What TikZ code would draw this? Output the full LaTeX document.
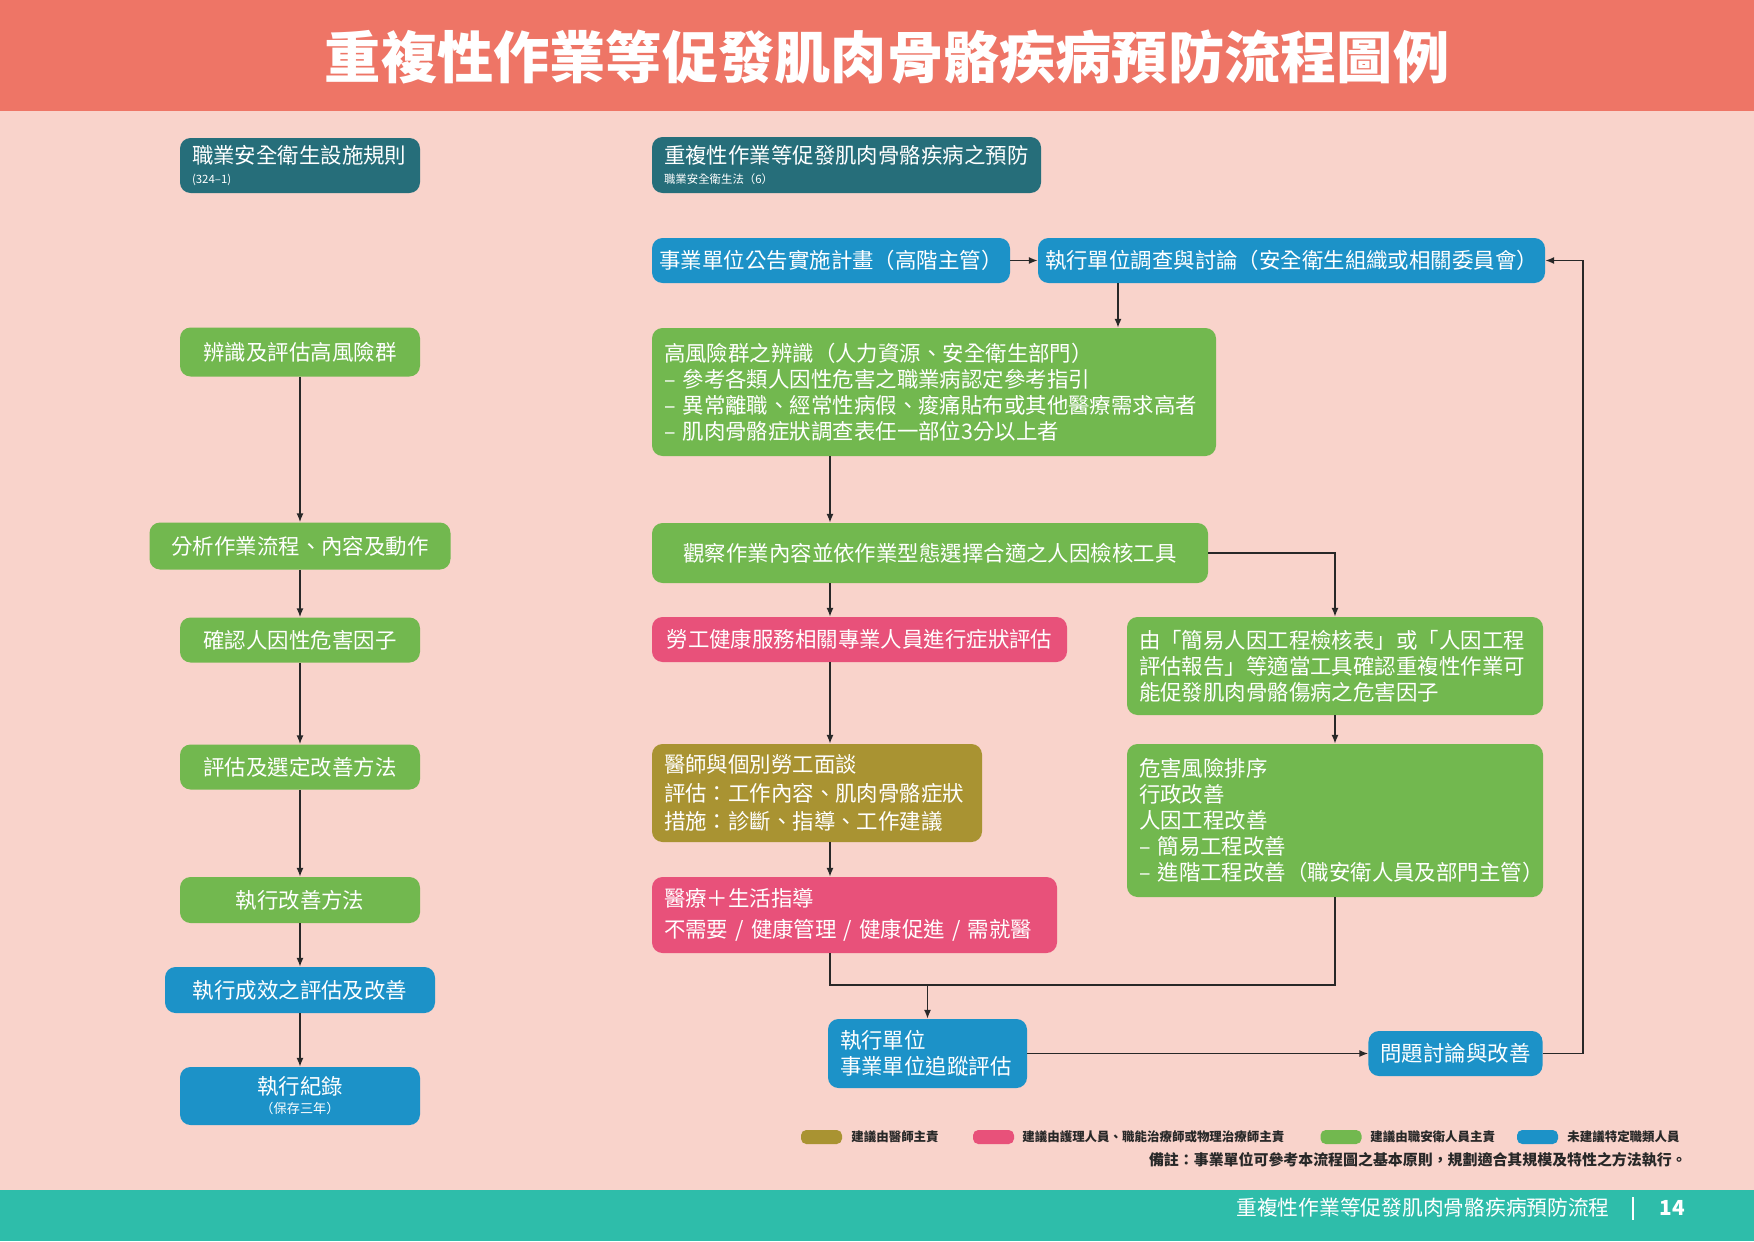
\documentclass[tikz,border=0pt]{standalone}
\usepackage{fontspec}
\setmainfont{Noto Sans CJK TC}
\usepackage{xcolor}
\usepackage{tikz}
\usetikzlibrary{arrows.meta}
\definecolor{bgpink}{RGB}{249,211,203}
\definecolor{titlered}{RGB}{238,117,102}
\definecolor{footteal}{RGB}{46,189,170}
\definecolor{darkteal}{RGB}{38,110,122}
\definecolor{boxblue}{RGB}{28,146,200}
\definecolor{boxgreen}{RGB}{114,184,79}
\definecolor{boxolive}{RGB}{169,147,50}
\definecolor{boxpink}{RGB}{232,81,122}
\definecolor{linegray}{RGB}{40,40,40}
\tikzset{
  box/.style={rounded corners=6pt, inner ysep=0pt, inner xsep=0.24cm, text=white, font=\fontsize{12.2}{14.8}\selectfont},
  sz/.style 2 args={minimum width=#1*0.02cm, minimum height=#2*0.02cm},
  flow/.style={draw=linegray, line width=0.8pt, -{Latex[length=5pt,width=4pt]}},
  joint/.style={draw=linegray, line width=0.8pt},
  swatch/.style={rounded corners=3pt, minimum width=0.82cm, minimum height=0.28cm, inner sep=0pt},
  legend/.style={anchor=west, text=linegray, inner sep=0pt, font=\fontsize{7.1}{9}\selectfont\bfseries}
}
\newcommand{\tinyline}[1]{{\fontsize{6.5}{9}\selectfont #1}}

\begin{document}
\begin{tikzpicture}[x=0.02cm, y=-0.02cm]
\fill[bgpink] (0,0) rectangle (1754,1241);
\fill[titlered] (0,0) rectangle (1754,111);
\fill[footteal] (0,1190) rectangle (1754,1241);
\node[text=white, font=\fontsize{32}{36}\selectfont\bfseries] (title) at (887,57) {重複性作業等促發肌肉骨骼疾病預防流程圖例};

\begin{scope}[every node/.style={box, fill=boxgreen}]
  \node[fill=darkteal, sz={240}{55}, align=left, text width=4.32cm] (a) at (300,165.5) {職業安全衛生設施規則\\[-3pt]\tinyline{(324–1)}};
  \node[sz={240}{49}] (b) at (300,352) {辨識及評估高風險群};
  \node[sz={301}{47}] (c) at (300,546) {分析作業流程、內容及動作};
  \node[sz={240}{45}] (d) at (300,640) {確認人因性危害因子};
  \node[sz={240}{45}] (e) at (300,767) {評估及選定改善方法};
  \node[sz={240}{46}] (f) at (300,900) {執行改善方法};
  \node[fill=boxblue, sz={270}{46}] (g) at (300,990) {執行成效之評估及改善};
  \node[fill=boxblue, sz={240}{58}, align=center] (h) at (300,1096) {執行紀錄\\[-4pt]{\fontsize{7.5}{9}\selectfont（保存三年）}};
  \draw[flow] (b) -- (c);
  \draw[flow] (c) -- (d);
  \draw[flow] (d) -- (e);
  \draw[flow] (e) -- (f);
  \draw[flow] (f) -- (g);
  \draw[flow] (g) -- (h);
\end{scope}

\begin{scope}[every node/.style={box, fill=boxgreen}]
  \coordinate (x1) at (1118,0);
  \coordinate (x2) at (830,0);
  \coordinate (x3) at (1583,0);
  \coordinate (y1) at (0,985);
  \node[fill=darkteal, sz={389}{56}, align=left, text width=7.3cm] (a) at (846.5,165) {重複性作業等促發肌肉骨骼疾病之預防\\[-3pt]\tinyline{職業安全衛生法（6）}};
  \node[fill=boxblue, sz={358}{45}, inner xsep=0.05cm] (b) at (831,260.5) {事業單位公告實施計畫（高階主管）};
  \node[fill=boxblue, sz={507}{45}, inner xsep=0.05cm] (c) at (1291.5,260.5) {執行單位調查與討論（安全衛生組織或相關委員會）};
  \node[sz={564}{128}, align=left, text width=10.8cm] (d) at (934,392) {高風險群之辨識（人力資源、安全衛生部門）\\\mbox{–~參考各類人因性危害之職業病認定參考指引}\\\mbox{–~異常離職、經常性病假、痠痛貼布或其他醫療需求高者}\\\mbox{–~肌肉骨骼症狀調查表任一部位3分以上者}};
  \node[sz={556}{60}] (e) at (930,553) {觀察作業內容並依作業型態選擇合適之人因檢核工具};
  \node[fill=boxpink, sz={415}{45}] (f) at (859.5,639.5) {勞工健康服務相關專業人員進行症狀評估};
  \node[sz={416}{98}, align=left, text width=7.84cm] (g) at (1335,666) {\mbox{由「簡易人因工程檢核表」或「人因工程}\\\mbox{評估報告」等適當工具確認重複性作業可}\\能促發肌肉骨骼傷病之危害因子};
  \node[fill=boxolive, sz={330}{98}, align=left, text width=6.12cm] (h) at (817,793) {醫師與個別勞工面談\\[1.5pt]評估：工作內容、肌肉骨骼症狀\\[1.5pt]措施：診斷、指導、工作建議};
  \node[sz={416}{153}, align=left, text width=7.84cm] (i) at (1335,820.5) {危害風險排序\\行政改善\\人因工程改善\\\mbox{–~簡易工程改善}\\\mbox{–~進階工程改善（職安衛人員及部門主管）}};
  \node[fill=boxpink, sz={405}{76}, align=left, text width=7.62cm] (j) at (854.5,915) {醫療＋生活指導\\[3pt]\mbox{不需要~/~健康管理~/~健康促進~/~需就醫}};
  \node[fill=boxblue, sz={199}{69}, align=left, text width=3.5cm] (k) at (927.5,1053.5) {執行單位\\事業單位追蹤評估};
  \node[fill=boxblue, sz={171}{45}] (l) at (1455.5,1053.5) {問題討論與改善};
  \draw[flow] (b) -- (c);
  \draw[flow] (c.south -| x1) -- (d.north -| x1);
  \draw[flow] (d.south -| x2) -- (e.north -| x2);
  \draw[flow] (e.south -| x2) -- (f.north -| x2);
  \draw[flow] (f.south -| x2) -- (h.north -| x2);
  \draw[flow] (h.south -| x2) -- (j.north -| x2);
  \draw[flow] (e.east) -| (g.north);
  \draw[flow] (g) -- (i);
  \draw[joint] (j.south -| x2) -- (x2 |- y1) -- (i.south |- y1) -- (i.south);
  \draw[flow] (k.north |- y1) -- (k.north);
  \draw[flow] (k) -- (l);
  \draw[flow] (l.east) -- (l.east -| x3) |- (c.east);
\end{scope}

\node[swatch, fill=boxolive] (m1) at (821.5,1137) {};
\node[legend] (t1) at (851,1137) {建議由醫師主責};
\node[swatch, fill=boxpink] (m2) at (993.5,1137) {};
\node[legend] (t2) at (1022,1137) {建議由護理人員、職能治療師或物理治療師主責};
\node[swatch, fill=boxgreen] (m3) at (1341,1137) {};
\node[legend] (t3) at (1370,1137) {建議由職安衛人員主責};
\node[swatch, fill=boxblue] (m4) at (1537.5,1137) {};
\node[legend] (t4) at (1567,1137) {未建議特定職類人員};
\node[legend, anchor=east, font=\fontsize{8.5}{10}\selectfont\bfseries] (note) at (1687,1160) {備註：事業單位可參考本流程圖之基本原則，規劃適合其規模及特性之方法執行。};

\node[anchor=east, text=white, inner sep=0pt, font=\fontsize{11.8}{14}\selectfont] (foot) at (1610,1208) {重複性作業等促發肌肉骨骼疾病預防流程};
\draw[white, line width=0.8pt] (1633,1197) -- (1633,1220);
\node[text=white, inner sep=0pt, font=\fontsize{11.8}{14}\selectfont\bfseries] (page) at (1672,1208) {14};
\end{tikzpicture}
\end{document}
